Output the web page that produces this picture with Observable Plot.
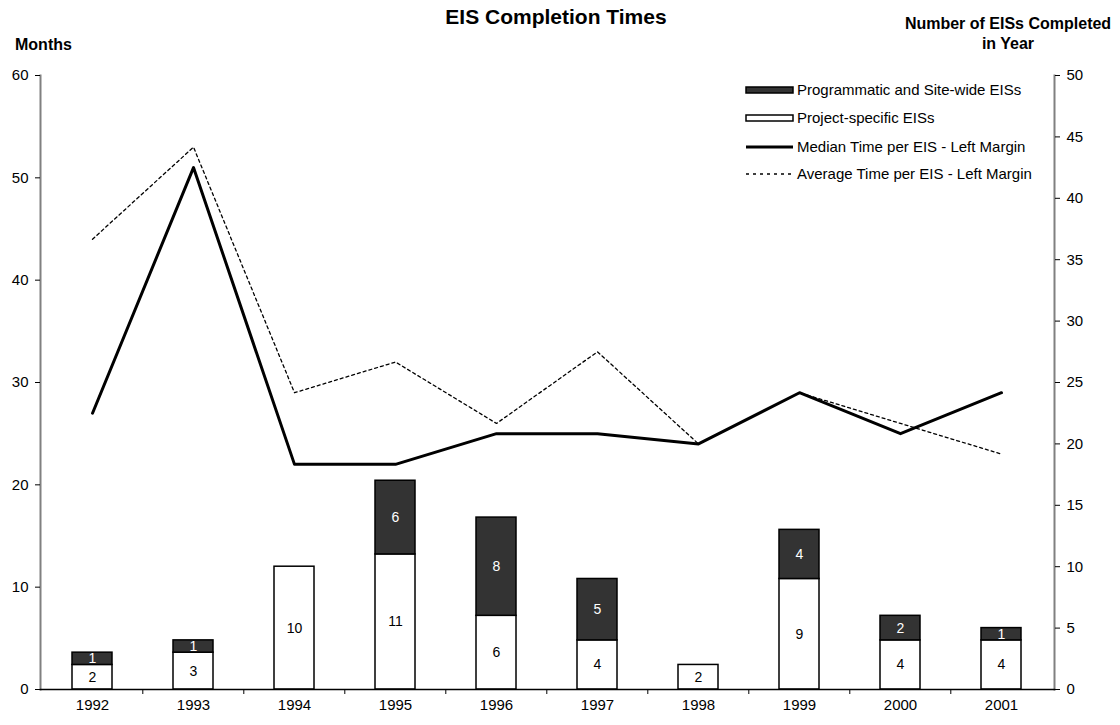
<!DOCTYPE html>
<html><head><meta charset="utf-8">
<script src="https://cdn.jsdelivr.net/npm/d3@7"></script>
<script src="https://cdn.jsdelivr.net/npm/@observablehq/plot@0.6"></script>
<style>
body{margin:0;background:#fff;font-family:"Liberation Sans",Arial,sans-serif;}
#wrap{position:relative;width:1120px;height:725px;overflow:hidden;}
.t{position:absolute;font-weight:bold;color:#000;line-height:1.15;}
#legend{position:absolute;left:740px;top:78px;}
</style></head><body>
<div id="wrap">
  <div id="chart"></div>
  <div class="t" style="left:0;width:1112px;top:5px;text-align:center;font-size:21px;">EIS Completion Times</div>
  <div class="t" style="left:15px;top:36px;font-size:16px;">Months</div>
  <div class="t" style="left:880px;width:256px;top:14px;text-align:center;font-size:16px;line-height:20px;">Number of EISs Completed<br>in Year</div>
  <svg id="legend" width="340" height="110"></svg>
</div>
<script>
const years = ["1992","1993","1994","1995","1996","1997","1998","1999","2000","2001"];
const projectSpecific = [2,3,10,11,6,4,2,9,4,4];
const programmatic = [1,1,0,6,8,5,0,4,2,1];
const medianMonths = [27,51,22,22,25,25,24,29,25,29];
const averageMonths = [44,53,29,32,26,33,24,29,26,23];
const leftTicks = [0,10,20,30,40,50,60];
const rightTicks = [0,5,10,15,20,25,30,35,40,45,50];
const seriesNames = ["Programmatic and Site-wide EISs","Project-specific EISs","Median Time per EIS - Left Margin","Average Time per EIS - Left Margin"];

const ratio = 60 / 50;
const DARK = "#333333";
const bars = [];
years.forEach((yr, i) => { if (projectSpecific[i] > 0) bars.push({year: yr, type: seriesNames[1], n: projectSpecific[i]}); });
years.forEach((yr, i) => { if (programmatic[i] > 0) bars.push({year: yr, type: seriesNames[0], n: programmatic[i]}); });
const lines = years.map((yr, i) => ({year: yr, median: medianMonths[i], average: averageMonths[i]}));

const W = 1120, H = 725, mL = 40, mR = 66, mT = 75, mB = 36;
const step = (W - mL - mR) / 10;

const chart = Plot.plot({
  width: W, height: H, marginLeft: mL, marginRight: mR, marginTop: mT, marginBottom: mB,
  style: {fontFamily: "Liberation Sans, Arial, sans-serif", fontSize: "15px", background: "white", color: "black"},
  x: {type: "band", domain: years, paddingInner: 0.6, paddingOuter: 0.3, label: null},
  y: {domain: [0, 60], label: null},
  color: {type: "identity"},
  marks: [
    Plot.barY(bars, Plot.stackY({x: "year", y: d => d.n * ratio, z: "type",
      fill: d => d.type === seriesNames[0] ? DARK : "white", stroke: "black", strokeWidth: 1.5})),
    Plot.text(bars, Plot.stackY({x: "year", y: d => d.n * ratio, z: "type", text: d => String(d.n),
      fill: d => d.type === seriesNames[0] ? "white" : "black", fontSize: 14})),
    Plot.line(lines, {x: "year", y: "average", stroke: "black", strokeWidth: 1.3, strokeDasharray: "3,3"}),
    Plot.line(lines, {x: "year", y: "median", stroke: "black", strokeWidth: 3}),
    Plot.frame({anchor: "left", stroke: "#808080", strokeWidth: 2}),
    Plot.frame({anchor: "right", stroke: "#808080", strokeWidth: 2}),
    Plot.frame({anchor: "bottom", stroke: "black", strokeWidth: 1.5}),
    Plot.axisY({anchor: "left", ticks: leftTicks, tickSize: 5, tickPadding: 7, label: null, fontSize: 15}),
    Plot.axisY({anchor: "right", ticks: rightTicks.map(v => v * ratio), tickFormat: v => String(Math.round(v / ratio)), tickSize: 5, tickPadding: 7, label: null, fontSize: 15}),
    Plot.axisX({tickSize: 0, tickPadding: 10, label: null, fontSize: 15}),
    Plot.axisX({ticks: years.slice(1), tickSize: 5, tickFormat: () => "", dx: -step / 2, label: null})
  ]
});
document.getElementById("chart").appendChild(chart);

// legend
const lg = d3.select("#legend");
const rowsY = [12, 40, 69, 96];
const sx = 6, sw = 47, tx = 57;
lg.append("rect").attr("x", sx).attr("y", rowsY[0] - 3).attr("width", sw).attr("height", 6).attr("fill", DARK).attr("stroke", "black").attr("stroke-width", 1.5);
lg.append("rect").attr("x", sx).attr("y", rowsY[1] - 3).attr("width", sw).attr("height", 6).attr("fill", "white").attr("stroke", "black").attr("stroke-width", 1.5);
lg.append("line").attr("x1", sx).attr("x2", sx + sw).attr("y1", rowsY[2]).attr("y2", rowsY[2]).attr("stroke", "black").attr("stroke-width", 3);
lg.append("line").attr("x1", sx).attr("x2", sx + sw).attr("y1", rowsY[3]).attr("y2", rowsY[3]).attr("stroke", "black").attr("stroke-width", 1.3).attr("stroke-dasharray", "3,4");
seriesNames.forEach((name, i) => {
  lg.append("text").attr("x", tx).attr("y", rowsY[i]).attr("dy", "0.35em")
    .attr("font-family", "Liberation Sans, Arial, sans-serif").attr("font-size", 15).text(name);
});
</script>
</body></html>
